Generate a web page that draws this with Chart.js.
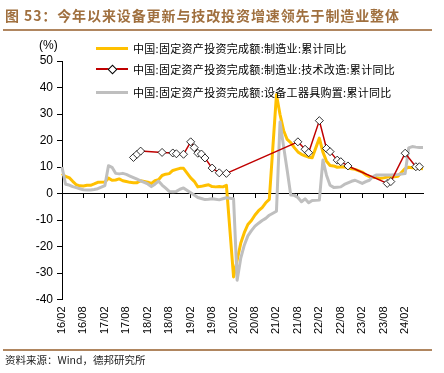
<!DOCTYPE html>
<html><head><meta charset="utf-8">
<script src="https://cdn.jsdelivr.net/npm/chart.js@4.4.1/dist/chart.umd.min.js"></script>
<style>
html,body{margin:0;padding:0;background:#fff;}
#wrap{position:relative;width:444px;height:373px;overflow:hidden;font-family:"Noto Sans CJK SC",sans-serif;}
#c{position:absolute;left:0;top:0;}
.title{position:absolute;left:5px;top:6px;font-size:14px;font-weight:bold;color:#A0703F;white-space:nowrap;letter-spacing:0.9px;line-height:18px;}
.rule{position:absolute;left:3px;width:429px;height:2px;background:#B08660;}
.unit{position:absolute;left:39px;top:38px;font-family:"Liberation Sans",Arial,sans-serif;font-size:12px;color:#000;line-height:14px;}
.leg{position:absolute;left:96px;height:16px;font-size:11px;color:#000;white-space:nowrap;line-height:16px;}
.leg .ln{position:absolute;left:0;top:7px;width:32px;height:3px;}
.leg .tx{position:absolute;left:37px;top:0;letter-spacing:0.3px;}
.leg .dm{position:absolute;left:13px;top:5px;width:5px;height:5px;background:#fff;border:1px solid #000;transform:rotate(45deg);}
.src{position:absolute;left:5px;top:353px;font-size:10.5px;color:#222;white-space:nowrap;line-height:14px;}
</style></head>
<body>
<div id="wrap">
<canvas id="c" width="444" height="373"></canvas>
<div class="title">图 53：今年以来设备更新与技改投资增速领先于制造业整体</div>
<div class="rule" style="top:29px"></div>
<div class="unit">(%)</div>
<div class="leg" style="top:40px"><div class="ln" style="background:#FFC000"></div><div class="tx">中国:固定资产投资完成额:制造业:累计同比</div></div>
<div class="leg" style="top:61px"><div class="ln" style="background:#C00000;height:2px;top:7px"></div><div class="dm"></div><div class="tx">中国:固定资产投资完成额:制造业:技术改造:累计同比</div></div>
<div class="leg" style="top:84px"><div class="ln" style="background:#BFBFBF"></div><div class="tx">中国:固定资产投资完成额:设备工器具购置:累计同比</div></div>
<div class="rule" style="top:349px"></div>
<div class="src">资料来源：Wind，德邦研究所</div>
</div>
<script>
const months = [
 '16/02','16/03','16/04','16/05','16/06','16/07','16/08','16/09','16/10','16/11','16/12',
 '17/01','17/02','17/03','17/04','17/05','17/06','17/07','17/08','17/09','17/10','17/11','17/12',
 '18/01','18/02','18/03','18/04','18/05','18/06','18/07','18/08','18/09','18/10','18/11','18/12',
 '19/01','19/02','19/03','19/04','19/05','19/06','19/07','19/08','19/09','19/10','19/11','19/12',
 '20/01','20/02','20/03','20/04','20/05','20/06','20/07','20/08','20/09','20/10','20/11','20/12',
 '21/01','21/02','21/03','21/04','21/05','21/06','21/07','21/08','21/09','21/10','21/11','21/12',
 '22/01','22/02','22/03','22/04','22/05','22/06','22/07','22/08','22/09','22/10','22/11','22/12',
 '23/01','23/02','23/03','23/04','23/05','23/06','23/07','23/08','23/09','23/10','23/11','23/12',
 '24/01','24/02','24/03','24/04','24/05','24/06','24/07'
];
const tickLabels = ['16/02','16/08','17/02','17/08','18/02','18/08','19/02','19/08','20/02','20/08','21/02','21/08','22/02','22/08','23/02','23/08','24/02'];

const mfg = [
 7.5, 6.4, 6.0, 4.6, 3.3, 2.9, 2.8, 3.1, 3.1, 3.6, 4.2,
 null, 4.3, 5.8, 5.0, 5.1, 5.5, 4.8, 4.5, 4.2, 4.1, 4.1, 4.8,
 null, 4.3, 3.8, 4.8, 5.2, 6.8, 7.3, 7.5, 8.7, 9.1, 9.5, 9.5,
 null, 5.9, 4.6, 2.5, 2.7, 3.0, 3.3, 2.6, 2.5, 2.6, 2.5, 3.1,
 null, -31.5, -25.2, -18.8, -14.8, -11.7, -10.2, -8.1, -6.5, -5.3, -3.5, -2.2,
 null, 37.3, 29.8, 23.8, 20.4, 19.2, 17.3, 15.7, 14.8, 14.2, 13.7, 13.5,
 null, 20.9, 15.6, 12.2, 10.6, 10.4, 9.9, 10.0, 10.1, 9.7, 9.3, 9.1,
 null, 8.1, 7.0, 6.4, 6.0, 6.0, 5.7, 5.9, 6.2, 6.2, 6.3, 6.5,
 null, 9.4, 9.9, 9.7, 9.6, 9.5, 9.3
];

const techReform = [
 null, null, null, null, null, null, null, null, null, null, null,
 null, null, null, null, null, null, null, null, null, 13.6, 14.8, 16.0,
 null, null, null, null, null, 15.5, null, null, 15.3, 15.0, null, 14.8,
 null, 19.5, 17.3, 15.2, 14.9, 13.4, null, 9.6, null, 7.8, null, 7.6,
 null, null, null, null, null, null, null, null, null, null, null, null,
 null, null, null, null, null, null, null, 19.5, null, 16.7, 15.4, null,
 null, 27.5, null, 17.0, 15.8, null, 12.6, 12.0, null, 10.4, null, null,
 null, null, null, null, null, null, null, null, 3.8, 4.5, null, null,
 null, 15.2, null, null, 10.1, 10.1, null
];

const equipment = [
 10.0, 3.5, 3.2, 2.6, 2.2, 1.8, 1.4, 1.3, 1.3, 1.5, 1.8,
 null, 3.0, 10.5, 9.9, 7.6, 7.4, 7.6, 7.2, 6.6, 6.0, 5.4, 4.8,
 null, 3.6, 2.6, 3.5, 4.7, 3.2, 2.0, 0.8, 0.7, 0.8, 1.6, 2.1,
 null, 0.3, -0.6, -1.5, -1.9, -2.3, -2.2, -2.0, -2.2, -2.4, -2.0, -1.6,
 null, -2.0, -32.7, -24.5, -19.5, -16.0, -14.0, -12.3, -11.2, -10.2, -9.4, -8.2,
 null, -6.7, 27.0, 17.7, 8.8, -0.6, -0.7, -1.5, -3.1, -2.0, -3.5, -2.6,
 null, -2.5, 12.6, 6.9, 3.1, 2.3, 2.4, 2.5, 3.4, 4.0, 4.6, 5.0,
 null, 3.8, 4.5, 5.0, 6.4, 7.0, 7.0, 7.0, 7.0, 7.0, 7.1, 7.2,
 null, 7.5, 17.2, 17.7, 17.5, 17.4, 17.4
];

const tickFont = {family: '"Liberation Sans", Arial, sans-serif', size: 12};

new Chart(document.getElementById('c'), {
  type: 'line',
  data: {
    labels: months,
    datasets: [
      {label: '中国:固定资产投资完成额:制造业:技术改造:累计同比', data: techReform, xAxisID: 'x',
       borderColor: '#C00000', borderWidth: 1.5, pointStyle: 'rectRot', pointRadius: 4,
       pointBackgroundColor: '#fff', pointBorderColor: '#000', pointBorderWidth: 0.8, spanGaps: true, order: 0},
      {label: '中国:固定资产投资完成额:设备工器具购置:累计同比', data: equipment, xAxisID: 'x',
       borderColor: '#BFBFBF', borderWidth: 3, pointRadius: 0, spanGaps: true, order: 1},
      {label: '中国:固定资产投资完成额:制造业:累计同比', data: mfg, xAxisID: 'x',
       borderColor: '#FFC000', borderWidth: 3, pointRadius: 0, spanGaps: true, order: 2}
    ]
  },
  options: {
    responsive: false, animation: false, devicePixelRatio: 1,
    layout: {padding: {left: 0, right: 21, top: 61, bottom: 0}},
    plugins: {legend: {display: false}, tooltip: {enabled: false}},
    elements: {line: {tension: 0, borderJoinStyle: 'round', borderCapStyle: 'butt'}},
    scales: {
      x: {type: 'category', position: 'bottom', offset: false,
          grid: {display: false, drawTicks: false}, border: {display: false},
          ticks: {autoSkip: false, maxRotation: 90, minRotation: 90, padding: 7, color: '#000',
                  font: {family: tickFont.family, size: 11},
                  callback: function(v) { const l = this.getLabelForValue(v); return tickLabels.includes(l) ? l : ''; }},
          afterFit: s => { s.height = 73.5; }},
      x0: {type: 'category', axis: 'x', position: {y: 0}, offset: false,
           grid: {display: true, drawOnChartArea: false, drawTicks: true, tickLength: 4,
                  tickColor: c => tickLabels.includes(months[c.index]) ? '#000' : 'rgba(0,0,0,0)'},
           border: {display: true, color: '#000', width: 1},
           ticks: {display: false, autoSkip: false}},
      y: {min: -40, max: 50,
          ticks: {stepSize: 10, color: '#000', padding: 4, font: tickFont},
          grid: {display: true, drawOnChartArea: false, drawTicks: true, tickLength: 5, color: '#000'},
          border: {display: true, color: '#000'},
          afterFit: s => { s.width = 62; }}
    }
  }
});
</script>
</body></html>
